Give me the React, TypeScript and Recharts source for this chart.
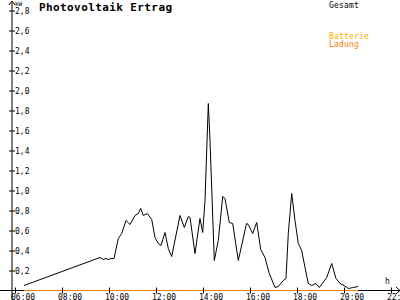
import React from 'react';
import { LineChart, Line, XAxis, YAxis } from 'recharts';

const hours = [
  6.383, 9.617, 9.757, 9.872, 9.97, 10.085, 10.213, 10.396, 10.54, 10.723, 10.894, 11.106,
  11.247, 11.349, 11.46, 11.63, 11.817, 11.957, 12.098, 12.213, 12.383, 12.523, 12.668,
  13.021, 13.204, 13.374, 13.447, 13.66, 13.872, 13.987, 14.085, 14.226, 14.298, 14.481,
  14.651, 14.838, 14.936, 15.119, 15.264, 15.502, 15.851, 15.928, 16.115, 16.285, 16.455,
  16.638, 16.821, 17.064, 17.204, 17.417, 17.532, 17.63, 17.774, 17.915, 18.055, 18.2,
  18.34, 18.481, 18.626, 18.809, 18.949, 19.264, 19.477, 19.66, 19.83, 20.0, 20.183,
  20.396, 20.609,
];
const gesamtKw = [
  0.05, 0.33, 0.31, 0.32, 0.31, 0.32, 0.32, 0.52, 0.57, 0.7, 0.66, 0.75,
  0.77, 0.82, 0.75, 0.77, 0.71, 0.53, 0.47, 0.45, 0.58, 0.42, 0.34,
  0.75, 0.63, 0.74, 0.73, 0.37, 0.72, 0.58, 0.9, 1.87, 1.5, 0.3,
  0.5, 0.94, 0.92, 0.68, 0.67, 0.3, 0.67, 0.66, 0.57, 0.68, 0.41,
  0.33, 0.17, 0.03, 0.04, 0.1, 0.12, 0.57, 0.97, 0.7, 0.47, 0.4,
  0.23, 0.07, 0.05, 0.07, 0.03, 0.13, 0.27, 0.12, 0.07, 0.05, 0.02,
  0.03, 0.04,
];
const ladungHours = [6.383, 20.609];
const ladungKw = [0, 0];

const xTicks = [6, 8, 10, 12, 14, 16, 18, 20, 22];
const xTickLabels = ['06:00', '08:00', '10:00', '12:00', '14:00', '16:00', '18:00', '20:00', '22:00'];
const yTicks = [0.2, 0.4, 0.6, 0.8, 1.0, 1.2, 1.4, 1.6, 1.8, 2.0, 2.2, 2.4, 2.6, 2.8];
const yTickLabels = ['0,2', '0,4', '0,6', '0,8', '1,0', '1,2', '1,4', '1,6', '1,8', '2,0', '2,2', '2,4', '2,6', '2,8'];

const title = 'Photovoltaik Ertrag';
const unitY = 'kW';
const unitX = 'h';
const legendNames = ['Gesamt', 'Batterie', 'Ladung'];

const gesamtData = hours.map((h, i) => ({ h, v: gesamtKw[i] }));
const ladungData = ladungHours.map((h, i) => ({ h, v: ladungKw[i] }));

const FONT = '"DejaVu Sans Mono", monospace';

const XTick = (props: any) => {
  const { x, y, payload } = props;
  const idx = xTicks.indexOf(payload.value);
  return (
    <g>
      <line x1={x + 0.5} x2={x + 0.5} y1={y - 3} y2={y + 3} stroke="#000" strokeWidth={1} />
      <text x={x - 4} y={y + 9} fontFamily={FONT} fontSize={8} fill="#000" textAnchor="start">
        {xTickLabels[idx]}
      </text>
    </g>
  );
};

const YTick = (props: any) => {
  const { x, y, payload } = props;
  const idx = yTicks.findIndex((t) => Math.abs(t - payload.value) < 1e-6);
  return (
    <g>
      <line x1={x - 3} x2={x + 3} y1={y + 0.5} y2={y + 0.5} stroke="#000" strokeWidth={1} />
      <text x={x + 3} y={y + 3} fontFamily={FONT} fontSize={8} fill="#000" textAnchor="start">
        {yTickLabels[idx]}
      </text>
    </g>
  );
};

export default function App() {
  return (
    <div style={{ position: 'absolute', left: 0, top: 0, width: 400, height: 300, background: '#fff' }}>
      <svg
        width={400}
        height={300}
        style={{ position: 'absolute', left: 0, top: 0, pointerEvents: 'none' }}
      >
        <line x1={0} x2={400} y1={290.5} y2={290.5} stroke="#000" strokeWidth={1} />
        <line x1={12} x2={12} y1={290} y2={300} stroke="#000" strokeWidth={1} />
        <polyline points="9,5 12,1 15,5" fill="none" stroke="#000" strokeWidth={1} />
        <polyline points="396,287 400,290.5 396,294" fill="none" stroke="#000" strokeWidth={1} />
        <text x={39} y={11} fontFamily={FONT} fontSize={11} fontWeight="bold" letterSpacing={0.4} fill="#000">
          {title}
        </text>
        <text x={15} y={6} fontFamily={FONT} fontSize={6} fill="#000">{unitY}</text>
        <text x={385} y={284} fontFamily={FONT} fontSize={8} fill="#000">{unitX}</text>
        <text x={329} y={7.5} fontFamily={FONT} fontSize={8} letterSpacing={0.2} fill="#000">{legendNames[0]}</text>
        <text x={329} y={39} fontFamily={FONT} fontSize={8} letterSpacing={0.2} fill="#ffaa00">{legendNames[1]}</text>
        <text x={329} y={46.5} fontFamily={FONT} fontSize={8} letterSpacing={0.2} fill="#ff8000">{legendNames[2]}</text>
      </svg>
      <div style={{ position: 'absolute', left: 0, top: 0 }}>
        <LineChart width={400} height={300} margin={{ top: 2.5, right: 0, bottom: 0, left: 0 }}>
          <XAxis
            dataKey="h"
            type="number"
            domain={[5.872, 22.383]}
            ticks={xTicks}
            height={9.5}
            tickSize={0}
            tickMargin={0}
            tick={<XTick />}
            axisLine={false}
            tickLine={false}
            interval={0}
          />
          <YAxis
            type="number"
            domain={[0, 2.88]}
            ticks={yTicks}
            width={12}
            tickSize={0}
            tickMargin={0}
            tick={<YTick />}
            axisLine={{ stroke: '#000', strokeWidth: 1 }}
            tickLine={false}
            interval={0}
          />
          <Line
            data={ladungData}
            dataKey="v"
            stroke="#ff8000"
            strokeWidth={1}
            dot={false}
            isAnimationActive={false}
          />
          <Line
            data={gesamtData}
            dataKey="v"
            stroke="#000"
            strokeWidth={1}
            dot={false}
            isAnimationActive={false}
            type="linear"
          />
        </LineChart>
      </div>
    </div>
  );
}
